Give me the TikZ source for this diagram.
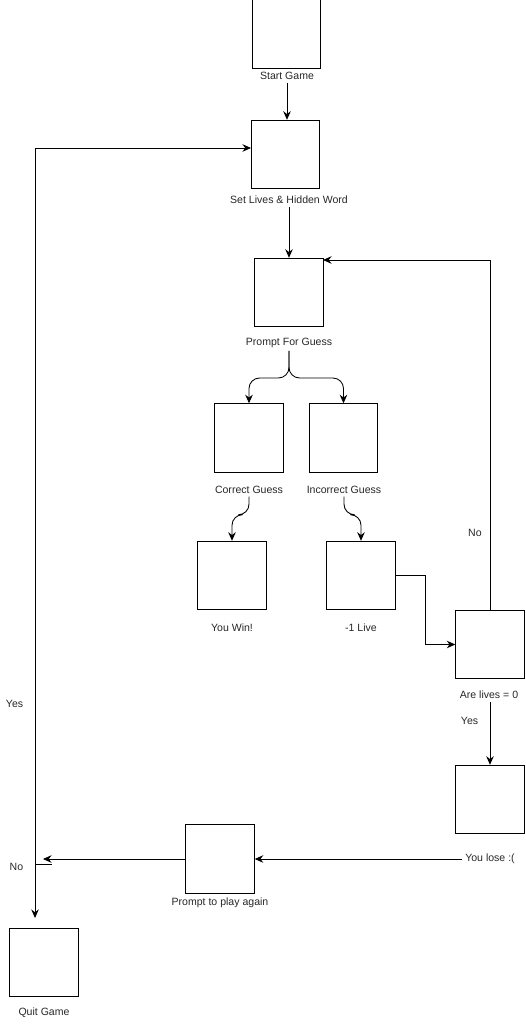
\documentclass[tikz,border=0pt]{standalone}
\usepackage{fontspec}
\setmainfont{Liberation Sans}
\usetikzlibrary{arrows.meta,positioning}
\tikzset{
  >={Stealth[length=1.7mm,width=1.5mm]},
  box/.style={draw=black,line width=0.55pt,minimum size=1.37cm,inner sep=0pt},
  tag/.style={font=\fontsize{6}{7.2}\selectfont,text=black!85,inner sep=1.5pt},
  flow/.style={->,line width=0.5pt,draw=black},
  soft/.style={rounded corners=6pt},
}
\begin{document}
\begin{tikzpicture}[x=0.02cm,y=-0.02cm]
  \useasboundingbox (0,0) rectangle (525,1024);
  % boxes
  \node[box] (start)     at (286.5,34)  {};
  \node[box] (setlives)  at (285.5,154.5) {};
  \node[box] (prompt)    at (289,292.5) {};
  \node[box] (correct)   at (249,438)   {};
  \node[box] (incorrect) at (343.5,438) {};
  \node[box] (win)       at (232,575.5) {};
  \node[box] (minus)     at (361,575.5) {};
  \node[box] (check)     at (490,644.5) {};
  \node[box] (lose)      at (490,799.5) {};
  \node[box] (again)     at (220,859)   {};
  \node[box] (quit)      at (44,962.5)  {};
  % labels
  \node[tag] (startlbl)     at (287,76)   {Start Game};
  \node[tag] (setlbl)       at (289,200)  {Set Lives \& Hidden Word};
  \node[tag] (promptlbl)    at (289,343)  {Prompt For Guess};
  \node[tag] (correctlbl)   at (249,490)  {Correct Guess};
  \node[tag] (incorrectlbl) at (344,490)  {Incorrect Guess};
  \node[tag] (winlbl)       at (232,628)  {You Win!};
  \node[tag] (minuslbl)     at (361,628)  {-1 Live};
  \node[tag] (checklbl)     at (489,695)  {Are lives = 0};
  \node[tag] (loselbl)      at (490,859)  {You lose :(};
  \node[tag] (againlbl)     at (220,903)  {Prompt to play again};
  \node[tag] (quitlbl)      at (44,1013)  {Quit Game};
  % helper points
  \coordinate (split)  at (289,378);
  \coordinate (loopin) at (323,260);
  \coordinate (joint)  at (43,859);
  \coordinate (stub)   at (52,864);
  \coordinate (fork)   at (35,864);
  \coordinate (setin)  at (251,148);
  \coordinate (quitin) at (35,918);
  % connectors
  \draw[flow] (startlbl.south) -- (startlbl.south |- setlives.north);
  \draw[flow] (setlbl.south) -- (setlbl.south |- prompt.north);
  \draw[flow,soft] (promptlbl.south) -- (split) -| (correct.north);
  \draw[flow,soft] (promptlbl.south) -- (split) -| (incorrect.north);
  \draw[flow,soft] (correctlbl.south) -- ++(0,18) -| (win.north);
  \draw[flow,soft] (incorrectlbl.south) -- ++(0,18) -| (minus.north);
  \draw[flow] (minus.east) -- ++(30,0) |- (check.west);
  \draw[flow] (check.north) |- node[tag,left=3pt,pos=0.11] (nolbl) {No} (loopin);
  \draw[flow] (lose.north |- checklbl.south) -- node[tag,left=5pt,pos=0.3] (yeslbl) {Yes} (lose.north);
  \draw[flow] (loselbl.west) -- (again.east);
  \draw[flow] (again.west) -- (joint);
  \draw[flow] (stub) -- (fork) |- node[tag,left=5pt,pos=0.112] (againyes) {Yes} (setin);
  \draw[flow] (fork) -- node[tag,left=5pt,pos=0.05] (againno) {No} (quitin);
\end{tikzpicture}
\end{document}
